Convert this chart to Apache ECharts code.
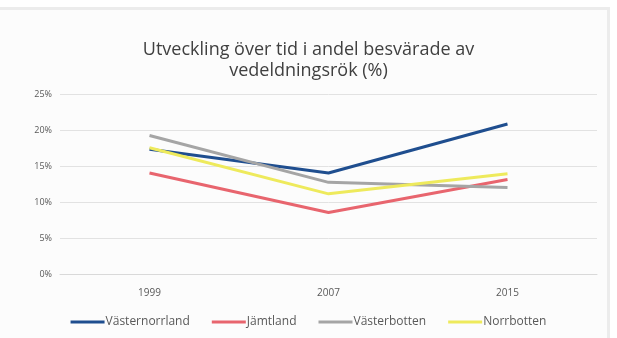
<!DOCTYPE html>
<html>
<head>
<meta charset="utf-8">
<script src="https://cdn.jsdelivr.net/npm/echarts@6/dist/echarts.min.js"></script>
<style>
  html, body { margin: 0; padding: 0; background: #ffffff; }
  #chart { width: 617px; height: 338px; }
</style>
</head>
<body>
<div id="chart"></div>
<script>
// Years surveyed
const years = ['1999', '2007', '2015'];

// Share of residents bothered by wood smoke, per county (%)
const vasternorrland = [17.4, 14.1, 20.9];
const jamtland = [14.1, 8.6, 13.2];
const vasterbotten = [19.3, 12.8, 12.1];
const norrbotten = [17.6, 11.2, 14.0];

const seriesNames = ['Västernorrland', 'Jämtland', 'Västerbotten', 'Norrbotten'];
const seriesColors = ['#1f4e8f', '#e8656e', '#a5a5a5', '#eeea5c'];
const seriesValues = [vasternorrland, jamtland, vasterbotten, norrbotten];

const yTicks = [0, 5, 10, 15, 20, 25];

const chart = echarts.init(document.getElementById('chart'));

chart.setOption({
  animation: false,
  backgroundColor: '#ffffff',
  textStyle: { fontFamily: '"Open Sans", sans-serif' },
  graphic: [
    // panel background and its frame
    { type: 'rect', shape: { x: 0, y: 10, width: 607, height: 328 }, style: { fill: '#fcfcfc' }, z: -10 },
    { type: 'rect', shape: { x: 0, y: 7, width: 610, height: 3 }, style: { fill: '#ececec' }, z: -9 },
    { type: 'rect', shape: { x: 607, y: 7, width: 3, height: 331 }, style: { fill: '#ececec' }, z: -9 }
  ],
  title: {
    text: 'Utveckling över tid i andel besvärade av\nvedeldningsrök (%)',
    left: 'center',
    top: 34,
    textStyle: {
      color: '#404040',
      fontSize: 18,
      fontWeight: 'normal',
      lineHeight: 21,
      fontFamily: '"Open Sans", sans-serif'
    }
  },
  legend: {
    bottom: 5,
    left: 'center',
    itemWidth: 34,
    itemHeight: 3,
    itemGap: 22,
    icon: 'rect',
    textStyle: { color: '#595959', fontSize: 12, padding: [0, 0, 0, -4] },
    data: seriesNames
  },
  grid: {
    left: 60,
    right: 20,
    top: 94.5,
    bottom: 63.5,
    containLabel: false
  },
  xAxis: {
    type: 'category',
    data: years,
    boundaryGap: true,
    axisLine: { show: true, lineStyle: { color: '#d9d9d9', width: 1 } },
    axisTick: { show: false },
    axisLabel: { color: '#595959', fontSize: 10, margin: 14 }
  },
  yAxis: {
    type: 'value',
    min: yTicks[0],
    max: yTicks[yTicks.length - 1],
    interval: 5,
    axisLine: { show: false },
    axisTick: { show: false },
    axisLabel: { color: '#595959', fontSize: 9, margin: 8, formatter: '{value}%' },
    splitLine: { lineStyle: { color: '#e2e2e2', width: 1 } }
  },
  series: seriesNames.map((name, i) => ({
    name,
    type: 'line',
    data: seriesValues[i],
    showSymbol: false,
    symbol: 'none',
    lineStyle: { width: 3, color: seriesColors[i] },
    itemStyle: { color: seriesColors[i] }
  }))
});
</script>
</body>
</html>
